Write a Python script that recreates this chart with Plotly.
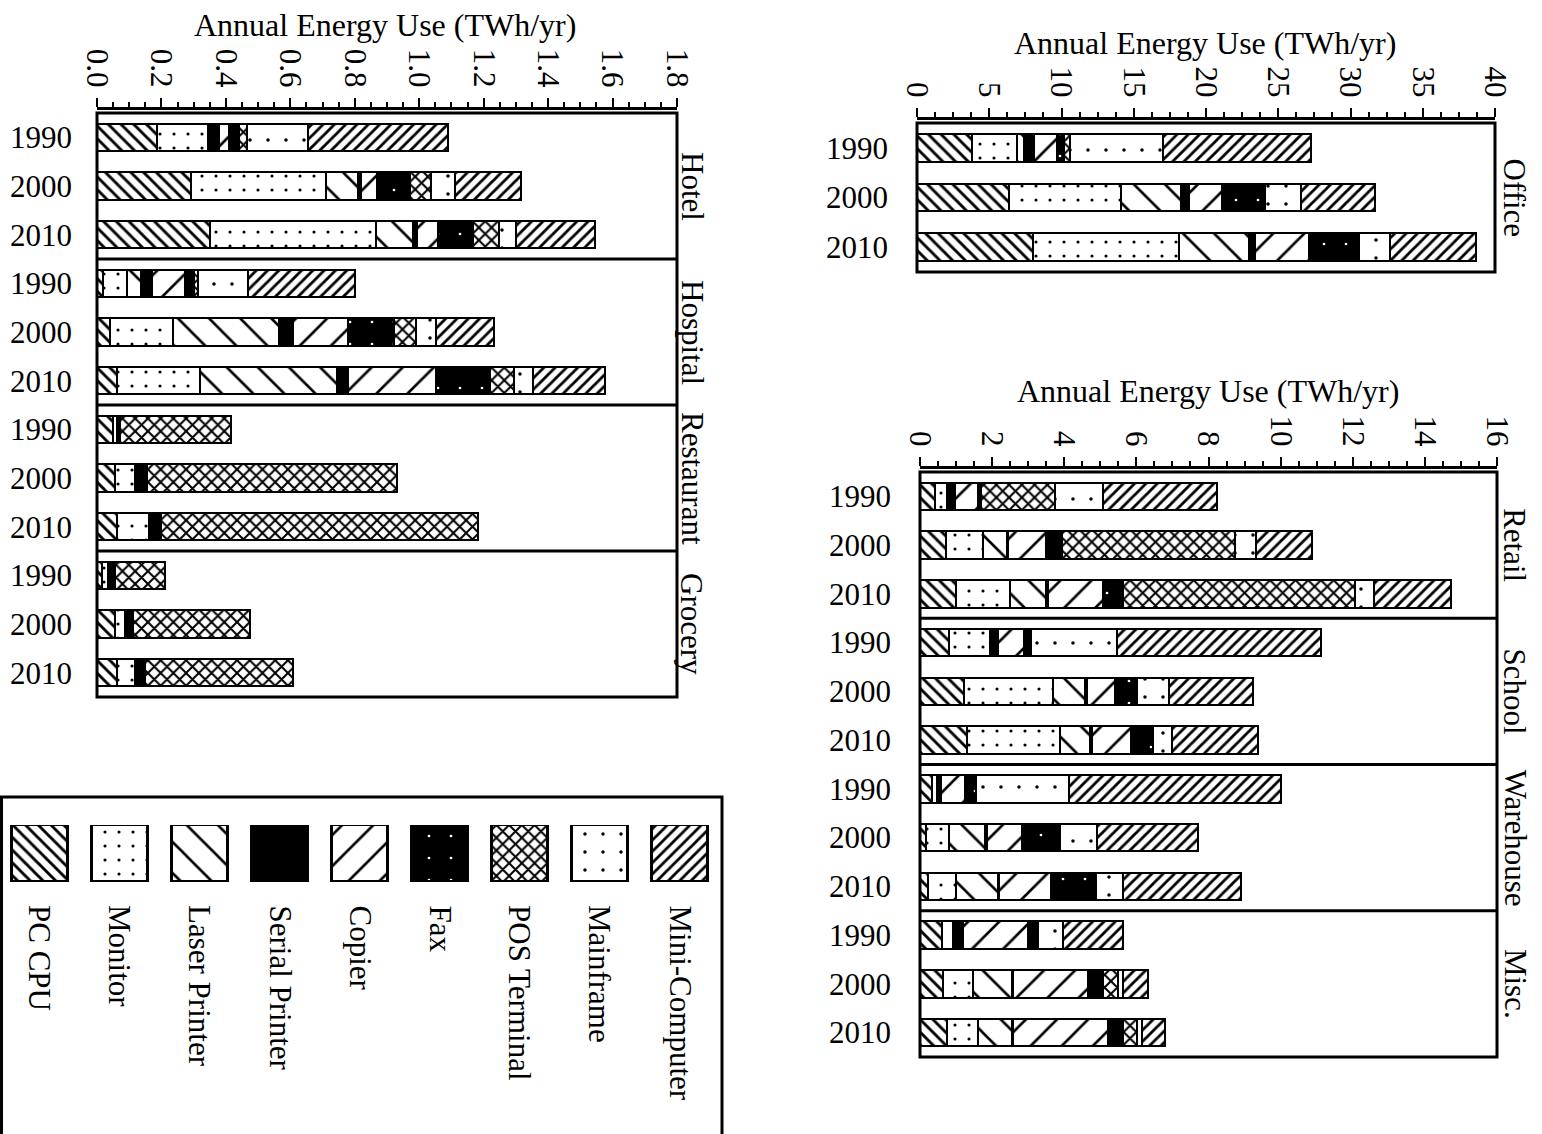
import plotly.graph_objects as go

# ---------------------------------------------------------------------------
# Data: annual energy use of office equipment (TWh/yr)
# each block holds one row per year; columns follow `devices`
# ---------------------------------------------------------------------------
devices = ["PC CPU", "Monitor", "Laser Printer", "Serial Printer", "Copier",
           "Fax", "POS Terminal", "Mainframe", "Mini-Computer"]
years = ["1990", "2000", "2010"]

hotel = [
    [0.185, 0.160, 0.000, 0.035, 0.030, 0.030, 0.025, 0.190, 0.435],
    [0.293, 0.417, 0.100, 0.010, 0.050, 0.100, 0.067, 0.073, 0.205],
    [0.350, 0.517, 0.115, 0.010, 0.066, 0.110, 0.079, 0.053, 0.246],
]
hospital = [
    [0.020, 0.073, 0.042, 0.037, 0.100, 0.030, 0.010, 0.158, 0.330],
    [0.040, 0.195, 0.330, 0.042, 0.173, 0.142, 0.068, 0.062, 0.179],
    [0.062, 0.257, 0.425, 0.036, 0.272, 0.168, 0.074, 0.058, 0.225],
]
restaurant = [
    [0.050, 0.012, 0.000, 0.008, 0.000, 0.000, 0.346, 0.000, 0.000],
    [0.056, 0.062, 0.000, 0.036, 0.000, 0.000, 0.777, 0.000, 0.000],
    [0.061, 0.099, 0.000, 0.020, 0.000, 0.020, 0.983, 0.000, 0.000],
]
grocery = [
    [0.015, 0.020, 0.000, 0.020, 0.000, 0.000, 0.156, 0.000, 0.000],
    [0.056, 0.031, 0.000, 0.025, 0.000, 0.000, 0.363, 0.000, 0.000],
    [0.061, 0.057, 0.000, 0.031, 0.000, 0.000, 0.460, 0.000, 0.000],
]
office = [
    [3.80, 3.10, 0.50, 0.70, 1.60, 0.50, 0.40, 6.40, 10.30],
    [6.35, 7.75, 4.15, 0.55, 2.30, 3.00, 0.00, 2.50, 5.10],
    [8.00, 10.10, 4.90, 0.40, 3.70, 3.50, 0.00, 2.10, 6.00],
]
retail = [
    [0.42, 0.34, 0.00, 0.20, 0.64, 0.10, 2.03, 1.34, 3.17],
    [0.71, 1.04, 0.65, 0.05, 1.04, 0.44, 4.81, 0.59, 1.54],
    [1.01, 1.49, 0.99, 0.05, 1.53, 0.55, 6.43, 0.55, 2.13],
]
school = [
    [0.81, 1.14, 0.00, 0.20, 0.74, 0.20, 0.00, 2.38, 5.64],
    [1.21, 2.48, 0.89, 0.05, 0.79, 0.59, 0.00, 0.89, 2.33],
    [1.31, 2.57, 0.84, 0.05, 1.09, 0.60, 0.00, 0.54, 2.38],
]
warehouse = [
    [0.32, 0.15, 0.00, 0.10, 0.69, 0.29, 0.00, 2.58, 5.89],
    [0.17, 0.64, 0.99, 0.05, 0.99, 1.04, 0.00, 1.04, 2.78],
    [0.22, 0.79, 1.14, 0.05, 1.43, 1.24, 0.00, 0.75, 3.27],
]
misc = [
    [0.60, 0.32, 0.00, 0.28, 1.80, 0.28, 0.00, 0.69, 1.67],
    [0.65, 0.83, 1.06, 0.05, 2.08, 0.41, 0.42, 0.14, 0.69],
    [0.74, 0.88, 0.92, 0.05, 2.63, 0.42, 0.37, 0.14, 0.64],
]

left_groups = ["Hotel", "Hospital", "Restaurant", "Grocery"]
office_groups = ["Office"]
right_groups = ["Retail", "School", "Warehouse", "Misc."]

axis_title = "Annual Energy Use (TWh/yr)"

# ---------------------------------------------------------------------------
# Styling
# ---------------------------------------------------------------------------
W, H = 1542, 1134
FONT = "Liberation Serif, Times New Roman, serif"
FS = 31

# fill pattern per device: (bar colour, pattern shape, fg, bg, tile size, solidity)
fills = {
    "PC CPU":         ("white", "\\", "black", "white", 9, 0.32),
    "Monitor":        ("white", ".", "black", "white", 14, 0.04),
    "Laser Printer":  ("white", "\\", "black", "white", 22, 0.12),
    "Serial Printer": ("black", "", "black", "black", 8, 0.3),
    "Copier":         ("white", "/", "black", "white", 22, 0.12),
    "Fax":            ("black", ".", "white", "black", 22, 0.012),
    "POS Terminal":   ("white", "x", "black", "white", 9, 0.4),
    "Mainframe":      ("white", ".", "black", "white", 18, 0.03),
    "Mini-Computer":  ("white", "/", "black", "white", 8, 0.35),
}


def px_x(p):
    return p / W


def px_y(p):
    return 1 - p / H


def marker_for(dev, line_width=2.5):
    col, shape, fg, bg, size, sol = fills[dev]
    m = dict(color=col, line=dict(color="black", width=line_width))
    if shape:
        m["pattern"] = dict(shape=shape, fgcolor=fg, bgcolor=bg, size=size,
                            solidity=sol, fillmode="replace")
    return m


panels = [
    dict(groups=left_groups, blocks=[hotel, hospital, restaurant, grocery],
         px=(97, 677), py=(113, 697), rng=(0, 1.8), dtick=0.2, minor=0.05,
         fmt=".1f", title_xy=(385, 25), label_x=692, standoff=24),
    dict(groups=office_groups, blocks=[office],
         px=(917, 1495), py=(123, 272), rng=(0, 40), dtick=5, minor=1.25,
         fmt="d", title_xy=(1205, 43), label_x=1514, standoff=28),
    dict(groups=right_groups, blocks=[retail, school, warehouse, misc],
         px=(920, 1497), py=(472, 1057), rng=(0, 16), dtick=2, minor=0.5,
         fmt="d", title_xy=(1208, 391), label_x=1515, standoff=28),
]

fig = go.Figure()
shapes = []
annotations = []
layout_axes = {}

for k, p in enumerate(panels, start=1):
    sx = "" if k == 1 else str(k)
    xa, ya = "x" + sx, "y" + sx
    rows = [row for block in p["blocks"] for row in block]
    n = len(rows)
    ypos = list(range(n))

    for j, dev in enumerate(devices):
        vals = [r[j] if r[j] > 0 else None for r in rows]
        fig.add_trace(go.Bar(
            x=vals, y=ypos, orientation="h", name=dev, width=0.56,
            marker=marker_for(dev), xaxis=xa, yaxis=ya, showlegend=False,
        ))

    x0, x1 = p["px"]
    y0, y1 = p["py"]
    layout_axes["xaxis" + sx] = dict(
        domain=[px_x(x0), px_x(x1)], range=list(p["rng"]), side="top",
        anchor="free", position=px_y(y0 - 5), showline=True,
        linecolor="black", linewidth=2.5, ticks="outside", ticklen=9,
        tickwidth=2, tickcolor="black", dtick=p["dtick"], tick0=0,
        tickformat=p["fmt"], tickangle=90, showgrid=False, zeroline=False,
        tickfont=dict(family=FONT, size=31, color="black"),
        minor=dict(dtick=p["minor"], tick0=0, ticks="outside", ticklen=5,
                   tickwidth=1.5, tickcolor="black", showgrid=False),
        automargin=False, fixedrange=True,
    )
    layout_axes["yaxis" + sx] = dict(
        domain=[px_y(y1), px_y(y0)], range=[n - 0.5, -0.5], anchor=xa,
        tickvals=ypos, ticktext=years * (n // len(years)), showline=False,
        showgrid=False, zeroline=False, ticks="",
        ticklabelstandoff=p["standoff"], automargin=False,
        tickfont=dict(family=FONT, size=FS, color="black"), fixedrange=True,
    )

    # panel frame
    shapes.append(dict(type="rect", xref=xa + " domain", yref=ya + " domain",
                       x0=0, x1=1, y0=0, y1=1,
                       line=dict(color="black", width=3)))
    # separators between building types
    for g in range(1, len(p["groups"])):
        shapes.append(dict(type="line", xref=xa + " domain", yref=ya,
                           x0=0, x1=1, y0=3 * g - 0.5, y1=3 * g - 0.5,
                           line=dict(color="black", width=3)))
    # building-type labels along the right edge
    for g, name in enumerate(p["groups"]):
        annotations.append(dict(
            text=name, xref="paper", yref=ya, x=px_x(p["label_x"]),
            y=3 * g + 1, textangle=90, showarrow=False,
            xanchor="center", yanchor="middle",
            font=dict(family=FONT, size=FS, color="black"),
        ))
    # axis title
    tx, ty = p["title_xy"]
    annotations.append(dict(
        text=axis_title, xref="paper", yref="paper", x=px_x(tx), y=px_y(ty),
        showarrow=False, xanchor="center", yanchor="middle",
        font=dict(family=FONT, size=32, color="black"),
    ))

# ---------------------------------------------------------------------------
# Key: one swatch bar per device on its own hidden axes
# ---------------------------------------------------------------------------
for dev in devices:
    fig.add_trace(go.Bar(
        x=[dev], y=[1], width=0.71, xaxis="x4", yaxis="y4", name=dev,
        showlegend=False, marker=marker_for(dev, line_width=3),
    ))
layout_axes["xaxis4"] = dict(domain=[0, px_x(720)], range=[-0.5, 8.5],
                             type="category", categoryorder="array",
                             categoryarray=devices, anchor="y4",
                             visible=False, fixedrange=True, automargin=False)
layout_axes["yaxis4"] = dict(domain=[px_y(882), px_y(825)], range=[0, 1],
                             anchor="x4", visible=False, fixedrange=True,
                             automargin=False)

shapes.append(dict(type="rect", xref="paper", yref="paper",
                   x0=px_x(1.5), x1=px_x(722), y0=-0.05, y1=px_y(797),
                   line=dict(color="black", width=3)))
for d in devices:
    annotations.append(dict(
        text=d, xref="x4", yref="paper", x=d, y=px_y(903),
        textangle=90, showarrow=False, xanchor="center", yanchor="top",
        font=dict(family=FONT, size=FS, color="black"),
    ))

fig.update_layout(
    width=W, height=H, margin=dict(l=0, r=0, t=0, b=0, autoexpand=False),
    paper_bgcolor="white", plot_bgcolor="white",
    barmode="stack", bargap=0, shapes=shapes, annotations=annotations,
    font=dict(family=FONT, size=FS, color="black"),
    **layout_axes,
)

fig.write_html("out.html")
